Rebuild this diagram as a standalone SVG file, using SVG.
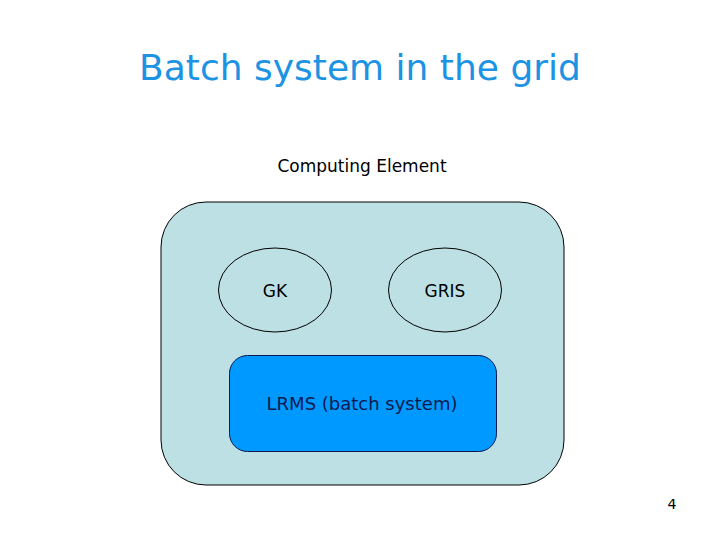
<svg xmlns="http://www.w3.org/2000/svg" width="720" height="540" viewBox="0 0 720 540">
<style>
text{font-family:"DejaVu Sans","Verdana",sans-serif}
.lbl{font-size:17px;fill:#000;text-anchor:middle}
.ell{fill:none;stroke:#000;stroke-width:1}
</style>
<rect width="720" height="540" fill="#fff"/>
<text x="360" y="80" font-size="36" fill="#1C93E3" text-anchor="middle">Batch system in the grid</text>
<text x="362" y="172" class="lbl">Computing Element</text>
<g id="ce">
<rect x="161" y="202" width="403" height="283" rx="45" ry="45" fill="#BCE0E4" stroke="#000" stroke-width="1"/>
</g>
<g id="gk">
<ellipse cx="275" cy="290" rx="56.5" ry="42" class="ell"/>
<text x="275" y="297" class="lbl">GK</text>
</g>
<g id="gris">
<ellipse cx="445" cy="290" rx="56.5" ry="42" class="ell"/>
<text x="445" y="297" class="lbl">GRIS</text>
</g>
<g id="lrms">
<rect x="229.5" y="355.5" width="267" height="96" rx="18" ry="18" fill="#0099FF" stroke="#0A1A50" stroke-width="1"/>
<text x="362" y="410" class="lbl" style="fill:#0A1A50;font-size:18px">LRMS (batch system)</text>
</g>
<g id="connectors"></g>
<text x="672" y="509" font-size="14" fill="#000" text-anchor="middle">4</text>
</svg>
